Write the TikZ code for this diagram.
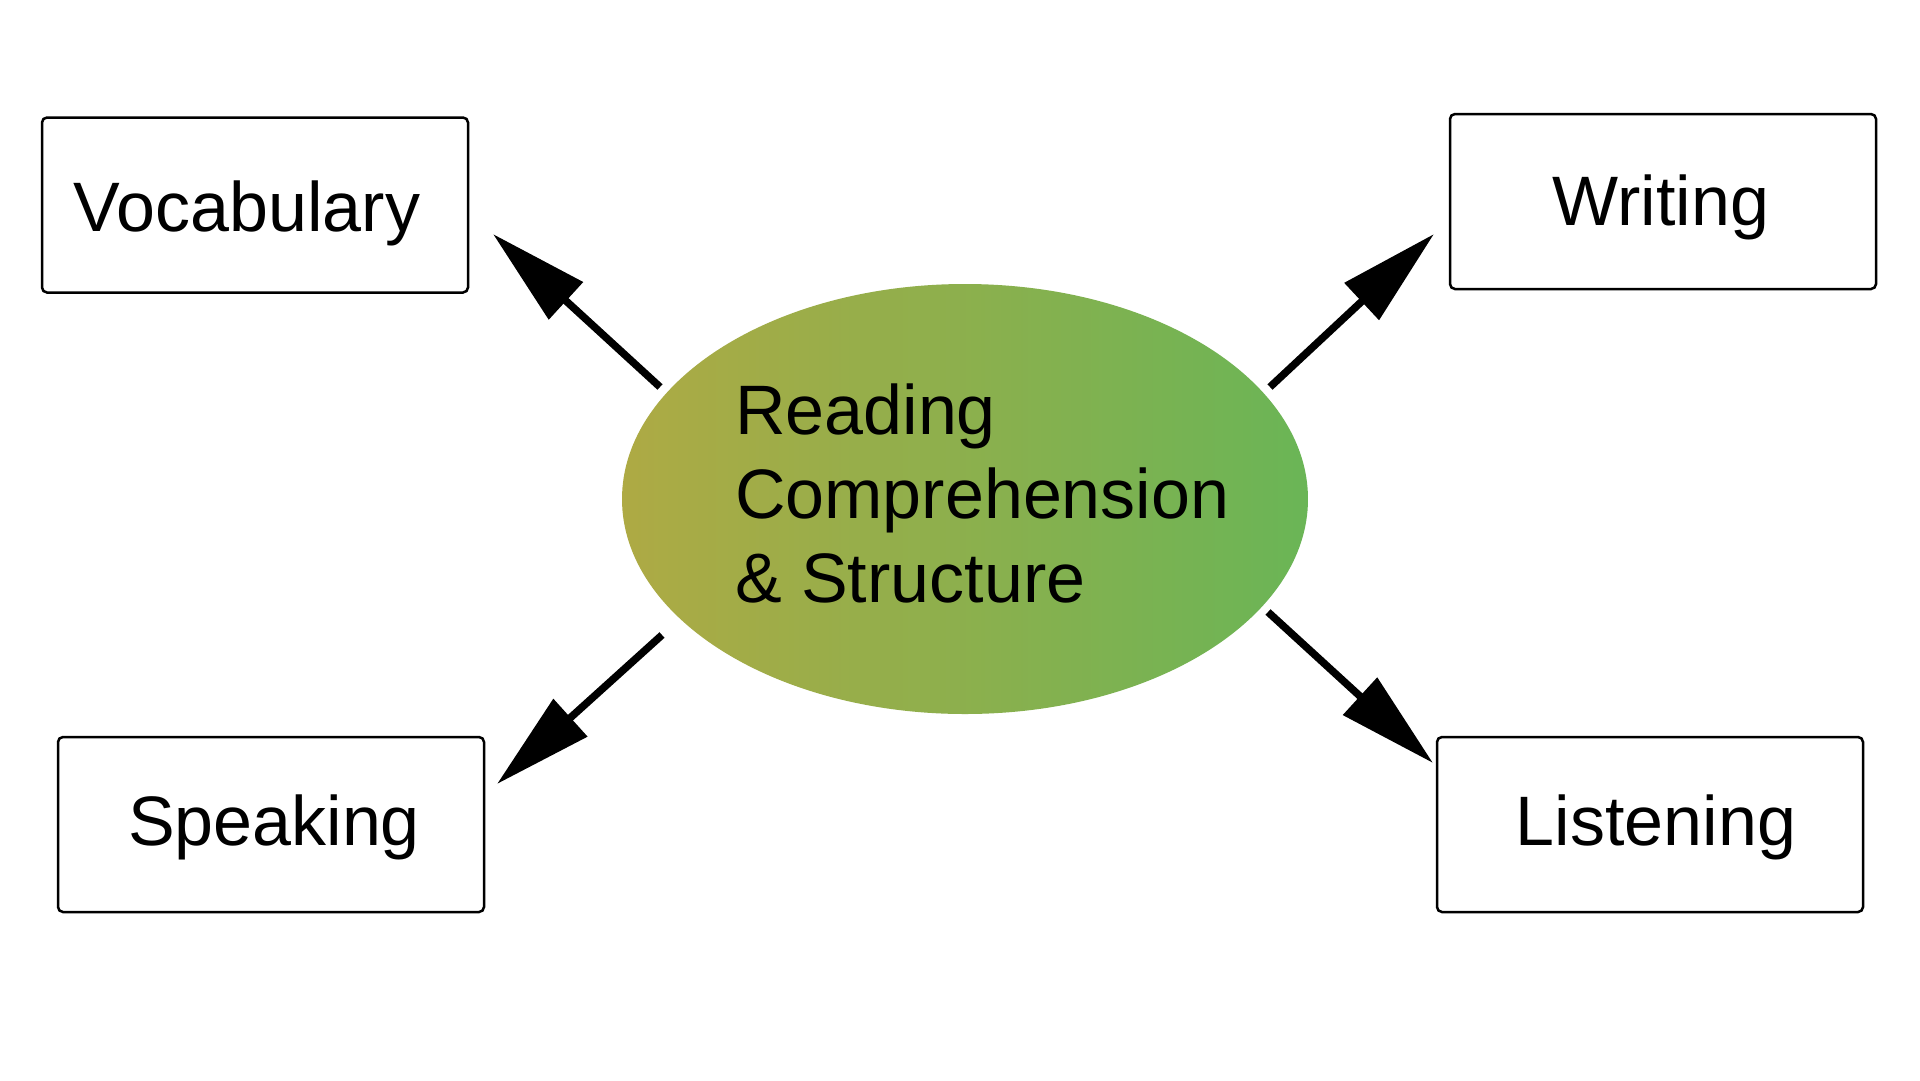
\documentclass[tikz,border=0pt]{standalone}
\usepackage{fontspec}
\setmainfont{Liberation Sans}
\usetikzlibrary{arrows.meta,shapes.geometric}
\definecolor{gleft}{RGB}{174,170,68}
\definecolor{gright}{RGB}{106,181,86}
\tikzset{
  skillbox/.style={draw=black, line width=2.5pt, rounded corners=5pt, fill=white,
    minimum width=426pt, minimum height=175pt, inner sep=0pt},
  lbl/.style={font=\fontsize{70pt}{84pt}\selectfont, inner sep=0pt, anchor=base},
  bigarrow/.style={line width=7.5pt, -{Triangle[length=99pt,width=49pt]}},
}
\begin{document}
\begin{tikzpicture}[x=1pt,y=-1pt]
\fill[white] (0,0) rectangle (1920,1080);
\useasboundingbox (0,0) rectangle (1920,1080);

% centre ellipse
\node[ellipse, draw=none, inner sep=0pt, minimum width=686pt, minimum height=430pt,
      left color=gleft, right color=gright] (rc) at (965,499) {};
\node[lbl, anchor=base west] (rc1) at (735,434) {Reading};
\node[lbl, anchor=base west] (rc2) at (735,518) {Comprehension};
\node[lbl, anchor=base west] (rc3) at (735,602) {\&~Structure};

% boxes
\node[skillbox] (voc) at (255,205) {};
\node[lbl] (voct) at (247,231) {Vocabulary};
\node[skillbox] (wri) at (1663,201.5) {};
\node[lbl] (writ) at (1661,225) {Writing};
\node[skillbox] (spk) at (271,824.5) {};
\node[lbl] (spkt) at (274,845) {Speaking};
\node[skillbox] (lis) at (1650,824.5) {};
\node[lbl] (list) at (1656,845) {Listening};

% arrow end points
\coordinate (a1s) at (660,387);  \coordinate (a1e) at (493,234);
\coordinate (a2s) at (1270,387); \coordinate (a2e) at (1434,234);
\coordinate (a3s) at (662,635);  \coordinate (a3e) at (497,784);
\coordinate (a4s) at (1268,612); \coordinate (a4e) at (1433,763);

\draw[bigarrow] (a1s) -- (a1e);
\draw[bigarrow] (a2s) -- (a2e);
\draw[bigarrow] (a3s) -- (a3e);
\draw[bigarrow] (a4s) -- (a4e);
\end{tikzpicture}
\end{document}
